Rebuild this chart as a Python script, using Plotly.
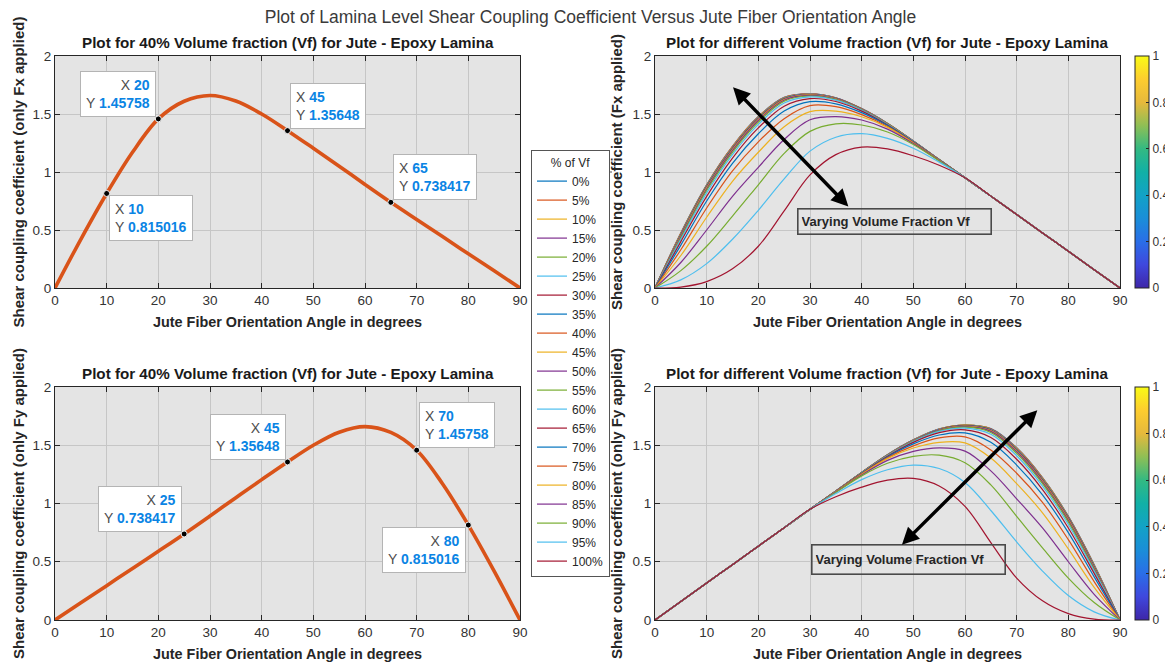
import plotly.graph_objects as go

# ---------------- data ----------------
main_title = "Plot of Lamina Level Shear Coupling Coefficient Versus Jute Fiber Orientation Angle"
sub_title_single = "Plot for 40% Volume fraction (Vf) for Jute - Epoxy Lamina"
sub_title_multi = "Plot for different Volume fraction (Vf) for Jute - Epoxy Lamina"
x_title = "Jute Fiber Orientation Angle in degrees"
y_title_tl = "Shear coupling coefficient (only Fx applied)"
y_title_bl = "Shear coupling coefficient (only Fy applied)"
y_title_tr = "Shear coupling coefficient (Fx applied)"
y_title_br = "Shear coupling coefficient (only Fy applied)"
legend_title = "% of Vf"
arrow_label = "Varying Volume Fraction Vf"

angles = [0, 5, 10, 15, 20, 25, 30, 35, 40, 45, 50, 55, 60, 65, 70, 75, 80, 85, 90]

# 40 % Vf lamina (left column)
fx_40 = [0, 0.42, 0.815016, 1.17, 1.45758, 1.61, 1.66, 1.612, 1.50, 1.35648,
         1.205, 1.05, 0.893, 0.738417, 0.59, 0.443, 0.295, 0.148, 0]
fy_40 = [0, 0.148, 0.295, 0.443, 0.59, 0.738417, 0.893, 1.05, 1.205, 1.35648,
         1.50, 1.612, 1.66, 1.61, 1.45758, 1.17, 0.815016, 0.42, 0]

tips_fx_x = [10, 20, 45, 65]
tips_fx_y = [0.815016, 1.45758, 1.35648, 0.738417]
tips_fy_x = [25, 45, 70, 80]
tips_fy_y = [0.738417, 1.35648, 1.45758, 0.815016]

vf_labels = ["0%", "5%", "10%", "15%", "20%", "25%", "30%", "35%", "40%", "45%", "50%",
             "55%", "60%", "65%", "70%", "75%", "80%", "85%", "90%", "95%", "100%"]

# Fx applied, one row per Vf (angles 0..90 step 5)
fx_by_vf = [
    [0, 0.475, 0.890, 1.222, 1.478, 1.643, 1.674, 1.640, 1.546, 1.419, 1.267, 1.107, 0.95, 0.792, 0.634, 0.475, 0.317, 0.158, 0],  # 0%
    [0, 0.473, 0.888, 1.220, 1.476, 1.642, 1.673, 1.639, 1.546, 1.419, 1.267, 1.107, 0.95, 0.792, 0.634, 0.475, 0.317, 0.158, 0],  # 5%
    [0, 0.470, 0.886, 1.217, 1.474, 1.640, 1.672, 1.638, 1.545, 1.418, 1.266, 1.107, 0.95, 0.792, 0.634, 0.475, 0.317, 0.158, 0],  # 10%
    [0, 0.466, 0.883, 1.213, 1.471, 1.638, 1.671, 1.637, 1.544, 1.418, 1.266, 1.107, 0.95, 0.792, 0.634, 0.475, 0.317, 0.158, 0],  # 15%
    [0, 0.462, 0.880, 1.209, 1.467, 1.635, 1.670, 1.635, 1.543, 1.417, 1.265, 1.107, 0.95, 0.792, 0.634, 0.475, 0.317, 0.158, 0],  # 20%
    [0, 0.458, 0.877, 1.206, 1.464, 1.633, 1.669, 1.634, 1.542, 1.416, 1.265, 1.106, 0.95, 0.792, 0.634, 0.475, 0.317, 0.158, 0],  # 25%
    [0, 0.455, 0.874, 1.203, 1.461, 1.631, 1.668, 1.633, 1.541, 1.415, 1.265, 1.106, 0.95, 0.792, 0.634, 0.475, 0.317, 0.158, 0],  # 30%
    [0, 0.452, 0.870, 1.199, 1.458, 1.629, 1.667, 1.632, 1.540, 1.414, 1.264, 1.106, 0.95, 0.792, 0.634, 0.475, 0.317, 0.158, 0],  # 35%
    [0, 0.448, 0.866, 1.195, 1.454, 1.626, 1.665, 1.631, 1.539, 1.414, 1.264, 1.106, 0.95, 0.792, 0.634, 0.475, 0.317, 0.158, 0],  # 40%
    [0, 0.444, 0.861, 1.190, 1.450, 1.623, 1.663, 1.629, 1.538, 1.413, 1.264, 1.106, 0.95, 0.792, 0.634, 0.475, 0.317, 0.158, 0],  # 45%
    [0, 0.439, 0.854, 1.184, 1.444, 1.619, 1.660, 1.627, 1.536, 1.412, 1.264, 1.106, 0.95, 0.792, 0.634, 0.475, 0.317, 0.158, 0],  # 50%
    [0, 0.430, 0.840, 1.170, 1.430, 1.610, 1.655, 1.624, 1.534, 1.411, 1.263, 1.105, 0.95, 0.792, 0.634, 0.475, 0.317, 0.158, 0],  # 55%
    [0, 0.420, 0.820, 1.150, 1.410, 1.595, 1.647, 1.619, 1.532, 1.409, 1.262, 1.105, 0.95, 0.792, 0.634, 0.475, 0.317, 0.158, 0],  # 60%
    [0, 0.400, 0.790, 1.120, 1.380, 1.567, 1.632, 1.608, 1.525, 1.405, 1.260, 1.104, 0.95, 0.792, 0.634, 0.475, 0.317, 0.158, 0],  # 65%
    [0, 0.370, 0.750, 1.075, 1.330, 1.525, 1.606, 1.588, 1.512, 1.400, 1.258, 1.103, 0.95, 0.792, 0.634, 0.475, 0.317, 0.158, 0],  # 70%
    [0, 0.330, 0.690, 1.010, 1.260, 1.460, 1.572, 1.563, 1.495, 1.393, 1.255, 1.102, 0.95, 0.792, 0.634, 0.475, 0.317, 0.158, 0],  # 75%
    [0, 0.280, 0.610, 0.920, 1.170, 1.390, 1.520, 1.525, 1.476, 1.385, 1.250, 1.100, 0.95, 0.792, 0.634, 0.475, 0.317, 0.158, 0],  # 80%
    [0, 0.220, 0.500, 0.790, 1.040, 1.280, 1.450, 1.478, 1.448, 1.370, 1.245, 1.098, 0.95, 0.792, 0.634, 0.475, 0.317, 0.158, 0],  # 85%
    [0, 0.150, 0.360, 0.620, 0.890, 1.160, 1.350, 1.415, 1.405, 1.345, 1.237, 1.095, 0.95, 0.792, 0.634, 0.475, 0.317, 0.158, 0],  # 90%
    [0, 0.070, 0.210, 0.420, 0.670, 0.940, 1.180, 1.300, 1.330, 1.290, 1.205, 1.085, 0.95, 0.792, 0.634, 0.475, 0.317, 0.158, 0],  # 95%
    [0, 0.008, 0.055, 0.165, 0.360, 0.665, 0.975, 1.150, 1.215, 1.200, 1.140, 1.058, 0.95, 0.792, 0.634, 0.475, 0.317, 0.158, 0],  # 100%
]

# Fy applied, one row per Vf (angles 0..90 step 5), as read on the lower-right plot
fy_by_vf = [
    [0, 0.158, 0.317, 0.475, 0.634, 0.792, 0.95, 1.107, 1.267, 1.419, 1.546, 1.640, 1.674, 1.643, 1.478, 1.222, 0.890, 0.475, 0],  # 0%
    [0, 0.158, 0.317, 0.475, 0.634, 0.792, 0.95, 1.107, 1.267, 1.419, 1.546, 1.639, 1.673, 1.642, 1.476, 1.220, 0.888, 0.473, 0],  # 5%
    [0, 0.158, 0.317, 0.475, 0.634, 0.792, 0.95, 1.107, 1.266, 1.418, 1.545, 1.638, 1.672, 1.640, 1.474, 1.217, 0.886, 0.470, 0],  # 10%
    [0, 0.158, 0.317, 0.475, 0.634, 0.792, 0.95, 1.107, 1.266, 1.418, 1.544, 1.637, 1.671, 1.638, 1.471, 1.213, 0.883, 0.466, 0],  # 15%
    [0, 0.158, 0.317, 0.475, 0.634, 0.792, 0.95, 1.107, 1.265, 1.417, 1.543, 1.635, 1.670, 1.635, 1.467, 1.209, 0.880, 0.462, 0],  # 20%
    [0, 0.158, 0.317, 0.475, 0.634, 0.792, 0.95, 1.106, 1.265, 1.416, 1.542, 1.634, 1.669, 1.633, 1.464, 1.206, 0.877, 0.458, 0],  # 25%
    [0, 0.158, 0.317, 0.475, 0.634, 0.792, 0.95, 1.106, 1.265, 1.415, 1.541, 1.633, 1.668, 1.631, 1.461, 1.203, 0.874, 0.455, 0],  # 30%
    [0, 0.158, 0.317, 0.475, 0.634, 0.792, 0.95, 1.106, 1.264, 1.414, 1.540, 1.632, 1.667, 1.629, 1.458, 1.199, 0.870, 0.452, 0],  # 35%
    [0, 0.158, 0.317, 0.475, 0.634, 0.792, 0.95, 1.106, 1.264, 1.414, 1.539, 1.631, 1.665, 1.626, 1.454, 1.195, 0.866, 0.448, 0],  # 40%
    [0, 0.158, 0.317, 0.475, 0.634, 0.792, 0.95, 1.106, 1.264, 1.413, 1.538, 1.629, 1.663, 1.623, 1.450, 1.190, 0.861, 0.444, 0],  # 45%
    [0, 0.158, 0.317, 0.475, 0.634, 0.792, 0.95, 1.106, 1.264, 1.412, 1.536, 1.627, 1.660, 1.619, 1.444, 1.184, 0.854, 0.439, 0],  # 50%
    [0, 0.158, 0.317, 0.475, 0.634, 0.792, 0.95, 1.105, 1.263, 1.411, 1.534, 1.624, 1.655, 1.610, 1.430, 1.170, 0.840, 0.430, 0],  # 55%
    [0, 0.158, 0.317, 0.475, 0.634, 0.792, 0.95, 1.105, 1.262, 1.409, 1.532, 1.619, 1.647, 1.595, 1.410, 1.150, 0.820, 0.420, 0],  # 60%
    [0, 0.158, 0.317, 0.475, 0.634, 0.792, 0.95, 1.104, 1.260, 1.405, 1.525, 1.608, 1.632, 1.567, 1.380, 1.120, 0.790, 0.400, 0],  # 65%
    [0, 0.158, 0.317, 0.475, 0.634, 0.792, 0.95, 1.103, 1.258, 1.400, 1.512, 1.588, 1.606, 1.525, 1.330, 1.075, 0.750, 0.370, 0],  # 70%
    [0, 0.158, 0.317, 0.475, 0.634, 0.792, 0.95, 1.102, 1.255, 1.393, 1.495, 1.563, 1.572, 1.460, 1.260, 1.010, 0.690, 0.330, 0],  # 75%
    [0, 0.158, 0.317, 0.475, 0.634, 0.792, 0.95, 1.100, 1.250, 1.385, 1.476, 1.525, 1.520, 1.390, 1.170, 0.920, 0.610, 0.280, 0],  # 80%
    [0, 0.158, 0.317, 0.475, 0.634, 0.792, 0.95, 1.098, 1.245, 1.370, 1.448, 1.478, 1.450, 1.280, 1.040, 0.790, 0.500, 0.220, 0],  # 85%
    [0, 0.158, 0.317, 0.475, 0.634, 0.792, 0.95, 1.095, 1.237, 1.345, 1.405, 1.415, 1.350, 1.160, 0.890, 0.620, 0.360, 0.150, 0],  # 90%
    [0, 0.158, 0.317, 0.475, 0.634, 0.792, 0.95, 1.085, 1.205, 1.290, 1.330, 1.300, 1.180, 0.940, 0.670, 0.420, 0.210, 0.070, 0],  # 95%
    [0, 0.158, 0.317, 0.475, 0.634, 0.792, 0.95, 1.058, 1.140, 1.200, 1.215, 1.150, 0.975, 0.665, 0.360, 0.165, 0.055, 0.008, 0],  # 100%
]

colorbar_range = [0, 1]
colorbar_ticks = [0, 0.2, 0.4, 0.6, 0.8, 1]

# ---------------- styling ----------------
VIEW_W, VIEW_H = 1173, 663
BODY = 8                      # default page margin in front of the plot div
W, H = VIEW_W - BODY, VIEW_H - BODY
FONT = "Liberation Sans, Arial, Helvetica, sans-serif"
matlab_colors = ["#0072BD", "#D95319", "#EDB120", "#7E2F8E", "#77AC30", "#4DBEEE", "#A2142F"]
parula = [[0.0, "#3e26a8"], [0.1, "#3f48dd"], [0.2, "#2a6ee8"], [0.3, "#1a8ed8"],
          [0.4, "#12a2c6"], [0.5, "#11b0a6"], [0.6, "#33b982"], [0.7, "#8fbf55"],
          [0.8, "#e6b93c"], [0.9, "#fdcd2f"], [1.0, "#f9fb15"]]


def px_x(p):
    return (p - BODY) / W


def px_y(p):
    return 1 - (p - BODY) / H


dom_x_left = [px_x(55), px_x(520)]
dom_x_right = [px_x(655), px_x(1120)]
dom_y_top = [px_y(288), px_y(56)]
dom_y_bot = [px_y(620), px_y(387)]

fig = go.Figure()

# left column: 40% lamina
for ys, ax, ay in ((fx_40, "x", "y"), (fy_40, "x3", "y3")):
    fig.add_trace(go.Scatter(x=angles, y=ys, mode="lines", xaxis=ax, yaxis=ay,
                             line=dict(color="#D95319", width=3.6, shape="spline", smoothing=1.0),
                             showlegend=False, hoverinfo="x+y"))
for xs, ys, ax, ay in ((tips_fx_x, tips_fx_y, "x", "y"), (tips_fy_x, tips_fy_y, "x3", "y3")):
    fig.add_trace(go.Scatter(x=xs, y=ys, mode="markers", xaxis=ax, yaxis=ay,
                             marker=dict(color="black", size=6, line=dict(color="#f2f2f2", width=1)),
                             showlegend=False))

# right column: family of Vf curves
for i, lab in enumerate(vf_labels):
    col = matlab_colors[i % len(matlab_colors)]
    fig.add_trace(go.Scatter(x=angles, y=fx_by_vf[i], mode="lines", name=lab, legendgroup=lab,
                             xaxis="x2", yaxis="y2",
                             line=dict(color=col, width=1.2, shape="spline", smoothing=1.0)))
for i, lab in enumerate(vf_labels):
    col = matlab_colors[i % len(matlab_colors)]
    fig.add_trace(go.Scatter(x=angles, y=fy_by_vf[i], mode="lines", name=lab, legendgroup=lab,
                             xaxis="x4", yaxis="y4", showlegend=False,
                             line=dict(color=col, width=1.2, shape="spline", smoothing=1.0)))

# colorbars (MATLAB parula)
for ax, ay, dom in (("x2", "y2", dom_y_top), ("x4", "y4", dom_y_bot)):
    fig.add_trace(go.Scatter(
        x=[None, None], y=[None, None], mode="markers", xaxis=ax, yaxis=ay,
        showlegend=False, hoverinfo="skip",
        marker=dict(color=colorbar_range, cmin=0, cmax=1, colorscale=parula, showscale=True,
                    colorbar=dict(x=px_x(1135), xanchor="left", xpad=0, ypad=0,
                                  y=(dom[0] + dom[1]) / 2, yanchor="middle",
                                  len=dom[1] - dom[0], lenmode="fraction", thickness=14,
                                  outlinewidth=1, outlinecolor="#262626",
                                  tickvals=colorbar_ticks, ticks="inside", ticklen=3,
                                  tickcolor="#262626",
                                  tickfont=dict(family=FONT, size=12, color="#333333")))))


def xaxis_cfg(domain, anchor):
    return dict(domain=domain, anchor=anchor, range=[0, 90], tick0=0, dtick=10,
                showline=True, linecolor="#262626", linewidth=1, mirror="allticks",
                ticks="inside", ticklen=5, tickcolor="#262626",
                showgrid=True, gridcolor="#c6c6c6", gridwidth=1, zeroline=False,
                tickfont=dict(family=FONT, size=13.5, color="#333333"),
                title=dict(text=x_title, standoff=9,
                           font=dict(family=FONT, size=14.4, color="#262626", weight="bold")))


def yaxis_cfg(domain, anchor, title, standoff):
    return dict(domain=domain, anchor=anchor, range=[0, 2], tick0=0, dtick=0.5,
                showline=True, linecolor="#262626", linewidth=1, mirror="allticks",
                ticks="inside", ticklen=5, tickcolor="#262626",
                showgrid=True, gridcolor="#c6c6c6", gridwidth=1, zeroline=False,
                tickfont=dict(family=FONT, size=13.5, color="#333333"),
                title=dict(text=title, standoff=standoff,
                           font=dict(family=FONT, size=15, color="#262626", weight="bold")))


annotations = []

# subplot titles
for dx, dy, txt in ((dom_x_left, dom_y_top, sub_title_single), (dom_x_right, dom_y_top, sub_title_multi),
                    (dom_x_left, dom_y_bot, sub_title_single), (dom_x_right, dom_y_bot, sub_title_multi)):
    annotations.append(dict(x=(dx[0] + dx[1]) / 2, y=dy[1], xref="paper", yref="paper",
                            xanchor="center", yanchor="bottom", yshift=3, showarrow=False,
                            text=txt, font=dict(family=FONT, size=15.2, color="#1a1a1a", weight="bold")))


# data tips
def tip_text(x, y):
    return ("<span style='color:#4d4d4d'>X</span> <b><span style='color:#0a84e4'>%s</span></b><br>"
            "<span style='color:#4d4d4d'>Y</span> <b><span style='color:#0a84e4'>%s</span></b>") % (x, y)


tip_places_fx = [("left", "top", "left"), ("right", "bottom", "right"),
                 ("left", "bottom", "left"), ("left", "bottom", "left")]
tip_places_fy = [("right", "bottom", "right"), ("right", "bottom", "right"),
                 ("left", "bottom", "left"), ("right", "top", "right")]
for (xs, ys, places, xr, yr) in ((tips_fx_x, tips_fx_y, tip_places_fx, "x", "y"),
                                 (tips_fy_x, tips_fy_y, tip_places_fy, "x3", "y3")):
    for tx, ty, (xa, ya, al) in zip(xs, ys, places):
        annotations.append(dict(
            x=tx, y=ty, xref=xr, yref=yr, xanchor=xa, yanchor=ya, align=al,
            xshift=2 if xa == "left" else -2, yshift=-2 if ya == "top" else 2,
            showarrow=False, text=tip_text(tx, ty),
            font=dict(family=FONT, size=14, color="#4d4d4d"),
            bgcolor="white", bordercolor="#b4b4b4", borderwidth=1, borderpad=5))

# "Varying Volume Fraction Vf" labels and double-headed arrows
annotations.append(dict(x=46.3, y=0.57, xref="x2", yref="y2", showarrow=False,
                        text=arrow_label, align="left", width=186, height=18,
                        font=dict(family=FONT, size=13, color="#262626", weight="bold"),
                        bordercolor="#4a4a4a", borderwidth=1.6, borderpad=3))
annotations.append(dict(x=49.0, y=0.517, xref="x4", yref="y4", showarrow=False,
                        text=arrow_label, align="left", width=186, height=22,
                        font=dict(family=FONT, size=13, color="#262626", weight="bold"),
                        bordercolor="#4a4a4a", borderwidth=1.6, borderpad=3))
annotations.append(dict(x=15.1, y=1.73, ax=37.7, ay=0.69, xref="x2", yref="y2", axref="x2", ayref="y2",
                        text="", showarrow=True, arrowside="end+start", arrowhead=2, startarrowhead=2,
                        arrowsize=1, startarrowsize=1, arrowwidth=3.4, arrowcolor="black"))
annotations.append(dict(x=74.0, y=1.80, ax=47.5, ay=0.633, xref="x4", yref="y4", axref="x4", ayref="y4",
                        text="", showarrow=True, arrowside="end+start", arrowhead=2, startarrowhead=2,
                        arrowsize=1, startarrowsize=1, arrowwidth=3.4, arrowcolor="black"))

legend_left_px, legend_top_px, legend_w_px = 531, 150, 81
fig.update_layout(
    width=W, height=H,
    margin=dict(l=0, r=0, t=0, b=0, autoexpand=False),
    paper_bgcolor="white", plot_bgcolor="#e4e4e4",
    font=dict(family=FONT, size=13, color="#262626"),
    title=dict(text=main_title, x=0.5, xanchor="center", y=px_y(17), yanchor="middle",
               font=dict(family=FONT, size=17.5, color="#3a3a3a")),
    xaxis=xaxis_cfg(dom_x_left, "y"), yaxis=yaxis_cfg(dom_y_top, "x", y_title_tl, 4),
    xaxis2=xaxis_cfg(dom_x_right, "y2"), yaxis2=yaxis_cfg(dom_y_top, "x2", y_title_tr, 6),
    xaxis3=xaxis_cfg(dom_x_left, "y3"), yaxis3=yaxis_cfg(dom_y_bot, "x3", y_title_bl, 4),
    xaxis4=xaxis_cfg(dom_x_right, "y4"), yaxis4=yaxis_cfg(dom_y_bot, "x4", y_title_br, 6),
    legend=dict(x=px_x(legend_left_px), xanchor="left", y=px_y(legend_top_px), yanchor="top",
                bgcolor="white", bordercolor="#555555", borderwidth=1,
                font=dict(family=FONT, size=12, color="#262626"),
                title=dict(text=legend_title, side="top center",
                           font=dict(family=FONT, size=12, color="#262626")),
                itemwidth=30, tracegroupgap=0),
    annotations=annotations,
    shapes=[dict(type="line", xref="paper", yref="paper",
                 x0=px_x(legend_left_px), x1=px_x(legend_left_px + legend_w_px),
                 y0=px_y(legend_top_px + 22), y1=px_y(legend_top_px + 22),
                 line=dict(color="#555555", width=1))],
    showlegend=True,
)

fig.write_html("out.html")
